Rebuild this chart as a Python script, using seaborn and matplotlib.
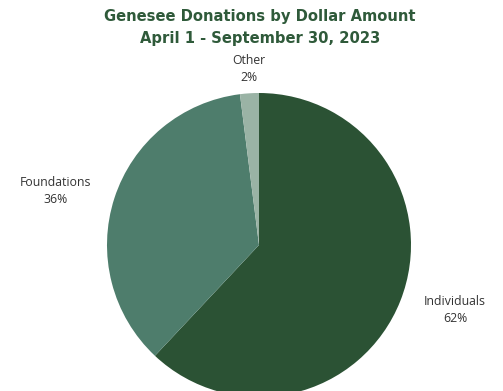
import matplotlib
matplotlib.use("Agg")
import matplotlib.pyplot as plt
import seaborn as sns

categories = ["Individuals", "Foundations", "Other"]
values = [62, 36, 2]
colors = ["#2b5234", "#4e7d6c", "#9ab3a5"]

sns.set_theme(style="white")
plt.rcParams['font.family'] = ['Open Sans', 'DejaVu Sans']

W, H = 503, 391
fig = plt.figure(figsize=(W / 100, H / 100), dpi=100)
ax = fig.add_axes([0, 0, 1, 1])

cx, cy, r = 259, H - 245, 152
wedges, _ = ax.pie(values, colors=colors, startangle=90, counterclock=False,
                   center=(cx, cy), radius=r, frame=False,
                   wedgeprops=dict(linewidth=0))
ax.set_xlim(0, W)
ax.set_ylim(0, H)
ax.set_aspect("equal")
ax.axis("off")

label_pos = {"Individuals": (455, 310), "Foundations": (56, 191), "Other": (249, 69)}
for cat, v in zip(categories, values):
    x, y = label_pos[cat]
    ax.text(x, H - y, f"{cat}\n{v}%", ha="center", va="center", fontsize=8.8,
            color="#333333", linespacing=1.35)

title_font = ['DejaVu Sans']
ax.text(260, H - 17, "Genesee Donations by Dollar Amount", ha="center", va="center",
        fontsize=10.6, fontweight="bold", color="#2f5a3a", family=title_font)
ax.text(260, H - 38, "April 1 - September 30, 2023", ha="center", va="center",
        fontsize=10.6, fontweight="bold", color="#2f5a3a", family=title_font)

fig.savefig("out.png", dpi=100)
